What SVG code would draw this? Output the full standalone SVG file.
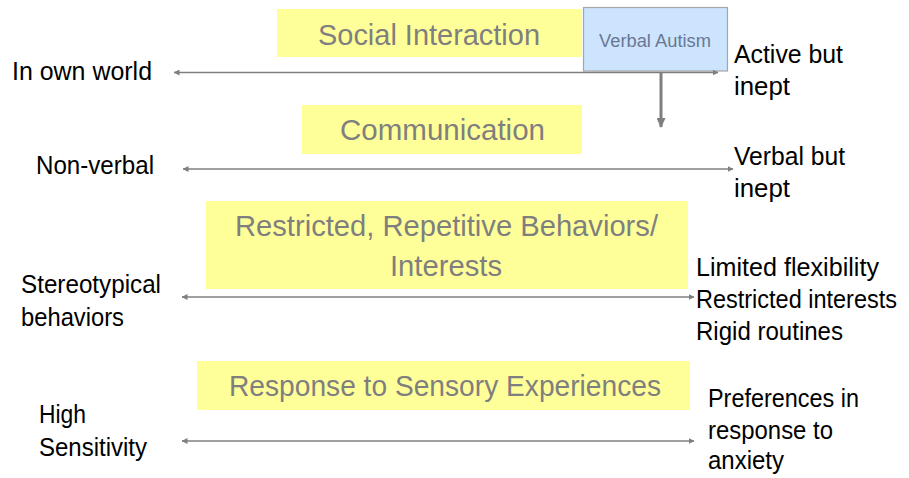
<svg xmlns="http://www.w3.org/2000/svg" width="909" height="478" viewBox="0 0 909 478">
<style>
.yb{fill:#ffff99;stroke:none}
.yt{font-family:"Liberation Sans",Arial,sans-serif;font-size:29px;fill:#7f7f7f;text-anchor:start}
.lb{font-family:"Liberation Sans",Arial,sans-serif;font-size:25.5px;fill:#000}
.bb{fill:#cce4fd;stroke:#a6a6a6;stroke-width:1.2}
.bt{font-family:"Liberation Sans",Arial,sans-serif;font-size:17.5px;fill:#6a7793}
.ln{stroke:#7f7f7f;stroke-width:1.6;fill:none}
.vl{stroke:#7f7f7f;stroke-width:3;fill:none}
</style>
<defs>
<marker id="ah" viewBox="0 0 6 6" refX="5.5" refY="3" markerWidth="6" markerHeight="6" markerUnits="userSpaceOnUse" orient="auto-start-reverse">
<path d="M0,0 L6,3 L0,6 Z" fill="#7f7f7f"/>
</marker>
<marker id="ahb" viewBox="0 0 10 9" refX="9" refY="4.5" markerWidth="10" markerHeight="9" markerUnits="userSpaceOnUse" orient="auto">
<path d="M0,0 L10,4.5 L0,9 Z" fill="#7f7f7f"/>
</marker>
</defs>
<rect width="909" height="478" fill="#fff"/>

<g id="social-interaction">
<rect class="yb" x="277" y="9" width="305" height="48"/>
<text class="yt" x="318" y="45" textLength="222" lengthAdjust="spacingAndGlyphs">Social Interaction</text>
</g>
<g id="communication">
<rect class="yb" x="302" y="105" width="280" height="49"/>
<text class="yt" x="340" y="140" textLength="205" lengthAdjust="spacingAndGlyphs">Communication</text>
</g>
<g id="restricted">
<rect class="yb" x="206" y="201" width="482" height="88"/>
<text class="yt" x="235" y="236" textLength="423" lengthAdjust="spacingAndGlyphs">Restricted, Repetitive Behaviors/</text>
<text class="yt" x="390" y="276" textLength="112" lengthAdjust="spacingAndGlyphs">Interests</text>
</g>
<g id="sensory">
<rect class="yb" x="197" y="361" width="493" height="49"/>
<text class="yt" x="229" y="396" textLength="432" lengthAdjust="spacingAndGlyphs">Response to Sensory Experiences</text>
</g>
<g id="verbal-autism">
<rect class="bb" x="583.5" y="7.5" width="144" height="63.5"/>
<text class="bt" x="599" y="47" textLength="112" lengthAdjust="spacingAndGlyphs">Verbal Autism</text>
</g>

<g id="connectors">
<line class="ln" x1="174" y1="72.5" x2="718" y2="72.5" marker-start="url(#ah)" marker-end="url(#ah)"/>
<line class="vl" x1="661" y1="72" x2="661" y2="127" marker-end="url(#ahb)"/>
<line class="ln" x1="183" y1="169" x2="733" y2="169" marker-start="url(#ah)" marker-end="url(#ah)"/>
<line class="ln" x1="182" y1="297" x2="694" y2="297" marker-start="url(#ah)" marker-end="url(#ah)"/>
<line class="ln" x1="182" y1="441" x2="694" y2="441" marker-start="url(#ah)" marker-end="url(#ah)"/>
</g>

<g id="in-own-world"><text class="lb" x="12" y="80" textLength="140" lengthAdjust="spacingAndGlyphs">In own world</text></g>
<g id="active-but-inept">
<text class="lb" x="734" y="63" textLength="109" lengthAdjust="spacingAndGlyphs">Active but</text>
<text class="lb" x="734" y="95" textLength="56" lengthAdjust="spacingAndGlyphs">inept</text>
</g>
<g id="non-verbal"><text class="lb" x="36" y="174" textLength="118" lengthAdjust="spacingAndGlyphs">Non-verbal</text></g>
<g id="verbal-but-inept">
<text class="lb" x="734" y="165" textLength="111" lengthAdjust="spacingAndGlyphs">Verbal but</text>
<text class="lb" x="734" y="197" textLength="56" lengthAdjust="spacingAndGlyphs">inept</text>
</g>
<g id="stereotypical">
<text class="lb" x="21" y="293" textLength="140" lengthAdjust="spacingAndGlyphs">Stereotypical</text>
<text class="lb" x="21" y="326" textLength="103" lengthAdjust="spacingAndGlyphs">behaviors</text>
</g>
<g id="limited-flexibility">
<text class="lb" x="696" y="276" textLength="183" lengthAdjust="spacingAndGlyphs">Limited flexibility</text>
<text class="lb" x="696" y="308" textLength="201" lengthAdjust="spacingAndGlyphs">Restricted interests</text>
<text class="lb" x="696" y="340" textLength="147" lengthAdjust="spacingAndGlyphs">Rigid routines</text>
</g>
<g id="high-sensitivity">
<text class="lb" x="39" y="423" textLength="47" lengthAdjust="spacingAndGlyphs">High</text>
<text class="lb" x="39" y="456" textLength="108" lengthAdjust="spacingAndGlyphs">Sensitivity</text>
</g>
<g id="preferences">
<text class="lb" x="708" y="407" textLength="151" lengthAdjust="spacingAndGlyphs">Preferences in</text>
<text class="lb" x="708" y="439" textLength="125" lengthAdjust="spacingAndGlyphs">response to</text>
<text class="lb" x="708" y="469" textLength="76" lengthAdjust="spacingAndGlyphs">anxiety</text>
</g>
</svg>
